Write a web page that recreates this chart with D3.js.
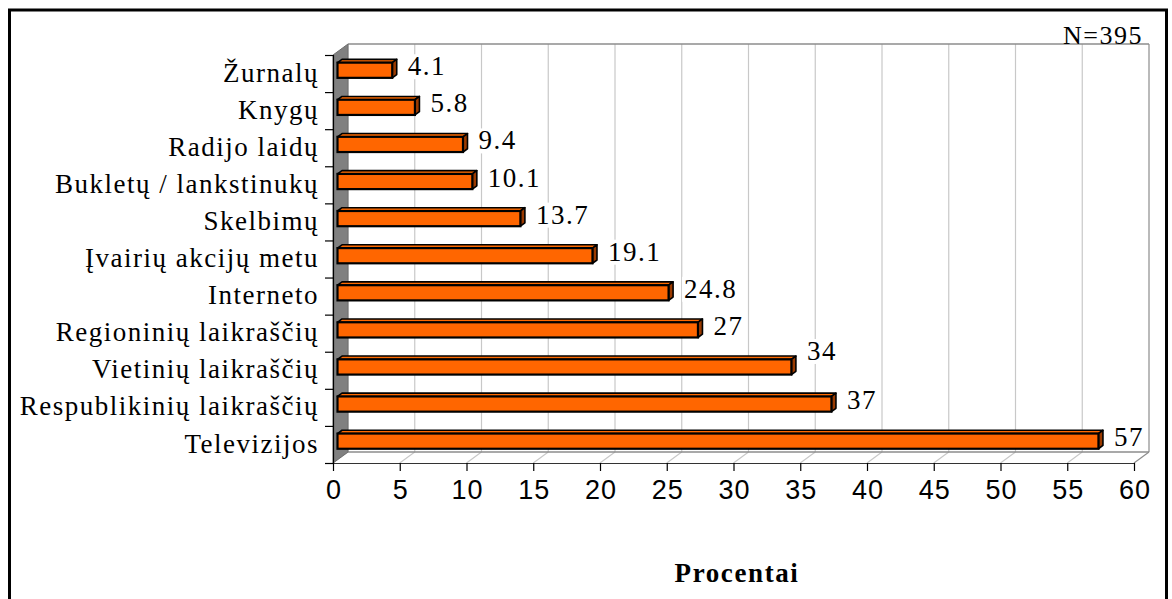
<!DOCTYPE html>
<html>
<head>
<meta charset="utf-8">
<script src="https://cdn.jsdelivr.net/npm/d3@7"></script>
<style>
  html, body { margin: 0; padding: 0; background: #fff; }
  svg { display: block; }
</style>
</head>
<body>
<svg id="chart" width="1172" height="599"></svg>
<script>
// Sources of information (share of respondents, %), listed top to bottom
const categories = [
  "Žurnalų", "Knygų", "Radijo laidų", "Bukletų / lankstinukų", "Skelbimų",
  "Įvairių akcijų metu", "Interneto", "Regioninių laikraščių",
  "Vietinių laikraščių", "Respublikinių laikraščių", "Televizijos"
];
const values = [4.1, 5.8, 9.4, 10.1, 13.7, 19.1, 24.8, 27, 34, 37, 57];
const xTicks = [0, 5, 10, 15, 20, 25, 30, 35, 40, 45, 50, 55, 60];
const sampleNote = "N=395";
const axisTitle = "Procentai";

const svg = d3.select("#chart");

// Plot box (front plane) and 3-D depth offset of the walls
const front = { left: 333, right: 1134, top: 55, bottom: 463 };
const depth = { dx: 15, dy: -11 };
const barDepth = { from: 0.3, to: 0.6 };     // bar position within wall depth

const x = d3.scaleLinear().domain([0, 60]).range([front.left, front.right]);
const y = d3.scaleBand().domain(categories).range([front.top, front.bottom]);
const yEdge = d3.scaleLinear().domain([0, categories.length]).range([front.top, front.bottom]);

const serif = "'Liberation Serif', 'Times New Roman', serif";
const sans = "'Liberation Sans', Arial, sans-serif";

// Outer frame
svg.append("rect")
  .attr("x", 9.5).attr("y", 10).attr("width", 1157).attr("height", 620)
  .attr("fill", "none").attr("stroke", "#000").attr("stroke-width", 3);

const back = (px, py) => [px + depth.dx, py + depth.dy];

// Back wall gridlines
const grid = svg.append("g");
xTicks.forEach(t => {
  const [bx, by] = back(x(t), front.top);
  const [, byB] = back(x(t), front.bottom);
  const col = t === 60 ? "#8c8c8c" : "#c8c8c8";
  grid.append("line")
    .attr("x1", bx).attr("x2", bx).attr("y1", by).attr("y2", byB)
    .attr("stroke", col).attr("stroke-width", 1.2);
  // floor gridlines running toward the back wall
  grid.append("line")
    .attr("x1", x(t)).attr("y1", front.bottom)
    .attr("x2", bx).attr("y2", byB)
    .attr("stroke", col).attr("stroke-width", 1.2);
});

// Back wall top edge and floor back edge
const [wl, wt] = back(front.left, front.top);
const [wr, wb] = back(front.right, front.bottom);
grid.append("line").attr("x1", wl).attr("x2", wr).attr("y1", wt).attr("y2", wt)
  .attr("stroke", "#8c8c8c").attr("stroke-width", 1.5);
grid.append("line").attr("x1", wl).attr("x2", wr).attr("y1", wb).attr("y2", wb)
  .attr("stroke", "#8c8c8c").attr("stroke-width", 1.5);

// Side wall (grey)
svg.append("polygon")
  .attr("points", [
    [front.left, front.top], back(front.left, front.top),
    back(front.left, front.bottom), [front.left, front.bottom]
  ].map(p => p.join(",")).join(" "))
  .attr("fill", "#808080").attr("stroke", "#6e6e6e").attr("stroke-width", 1);

// 3-D bars
const barH = y.bandwidth() * 0.41;
const ox = depth.dx * barDepth.from, oy = depth.dy * barDepth.from;
const sx = depth.dx * (barDepth.to - barDepth.from), sy = depth.dy * (barDepth.to - barDepth.from);

const bars = svg.append("g").selectAll("g").data(categories).join("g");
bars.each(function(c, i) {
  const g = d3.select(this);
  const x0 = x(0) + ox, x1 = x(values[i]) + ox;
  const yc = y(c) + y.bandwidth() / 2 + oy;
  const y0 = yc - barH / 2, y1 = yc + barH / 2;
  const pts = a => a.map(p => p.join(",")).join(" ");
  // top face
  g.append("polygon")
    .attr("points", pts([[x0, y0], [x0 + sx, y0 + sy], [x1 + sx, y0 + sy], [x1, y0]]))
    .attr("fill", "#ff6a00").attr("stroke", "#000").attr("stroke-width", 1.6).attr("stroke-linejoin", "round");
  // end face
  g.append("polygon")
    .attr("points", pts([[x1, y0], [x1 + sx, y0 + sy], [x1 + sx, y1 + sy], [x1, y1]]))
    .attr("fill", "#9a3a00").attr("stroke", "#000").attr("stroke-width", 1.6).attr("stroke-linejoin", "round");
  // front face
  g.append("rect")
    .attr("x", x0).attr("y", y0).attr("width", x1 - x0).attr("height", barH)
    .attr("fill", "#ff6600").attr("stroke", "#000").attr("stroke-width", 2.2);
});

// Category axis: ticks at band boundaries
const yAxis = d3.axisLeft(yEdge)
  .tickValues(d3.range(categories.length + 1))
  .tickSize(8).tickFormat("");
svg.append("g").attr("transform", `translate(${front.left},0)`).call(yAxis)
  .call(g => g.selectAll("path, line").attr("stroke", "#000").attr("stroke-width", 1.2));

svg.append("g").selectAll("text").data(categories).join("text")
  .attr("x", 319)
  .attr("y", d => y(d) + y.bandwidth() / 2)
  .attr("dy", "0.3em")
  .attr("text-anchor", "end")
  .attr("font-family", serif).attr("font-size", 27)
  .attr("letter-spacing", "1.5px")
  .attr("fill", "#000")
  .text(d => d);

// Value axis
const xAxis = d3.axisBottom(x).tickValues(xTicks).tickSize(8).tickSizeOuter(0).tickPadding(9);
svg.append("g").attr("transform", `translate(0,${front.bottom})`).call(xAxis)
  .call(g => g.select(".domain").attr("stroke", "#333").attr("stroke-width", 1.2))
  .call(g => g.selectAll(".tick line").attr("stroke", "#000").attr("stroke-width", 1.2))
  .call(g => g.selectAll(".tick text")
    .attr("font-family", sans).attr("font-size", 27).attr("fill", "#000")
    .attr("letter-spacing", "1.2px").attr("dx", "0.6"));

// Value labels with white backing
const labelLift = { "Vietinių laikraščių": 12 };
const lbl = svg.append("g");
categories.forEach((c, i) => {
  const yc = y(c) + y.bandwidth() / 2 + oy;
  const t = lbl.append("text")
    .attr("x", x(values[i]) + ox + sx + 11)
    .attr("y", yc + 5 - (labelLift[c] || 0))
    .attr("font-family", serif).attr("font-size", 27)
    .attr("letter-spacing", "1.5px").attr("fill", "#000")
    .text(values[i]);
  const bb = t.node().getBBox();
  lbl.insert("rect", () => t.node())
    .attr("x", bb.x - 2).attr("y", bb.y + 3).attr("width", bb.width + 2).attr("height", bb.height - 5)
    .attr("fill", "#fff");
});

// Sample size note
svg.append("text")
  .attr("x", 1143).attr("y", 44)
  .attr("text-anchor", "end")
  .attr("font-family", serif).attr("font-size", 26)
  .attr("letter-spacing", "1.5px")
  .attr("fill", "#000")
  .text(sampleNote);

// Axis title
svg.append("text")
  .attr("x", 737).attr("y", 582)
  .attr("text-anchor", "middle")
  .attr("font-family", serif).attr("font-size", 27).attr("font-weight", "bold")
  .attr("letter-spacing", "1.6px")
  .attr("fill", "#000")
  .text(axisTitle);
</script>
</body>
</html>
